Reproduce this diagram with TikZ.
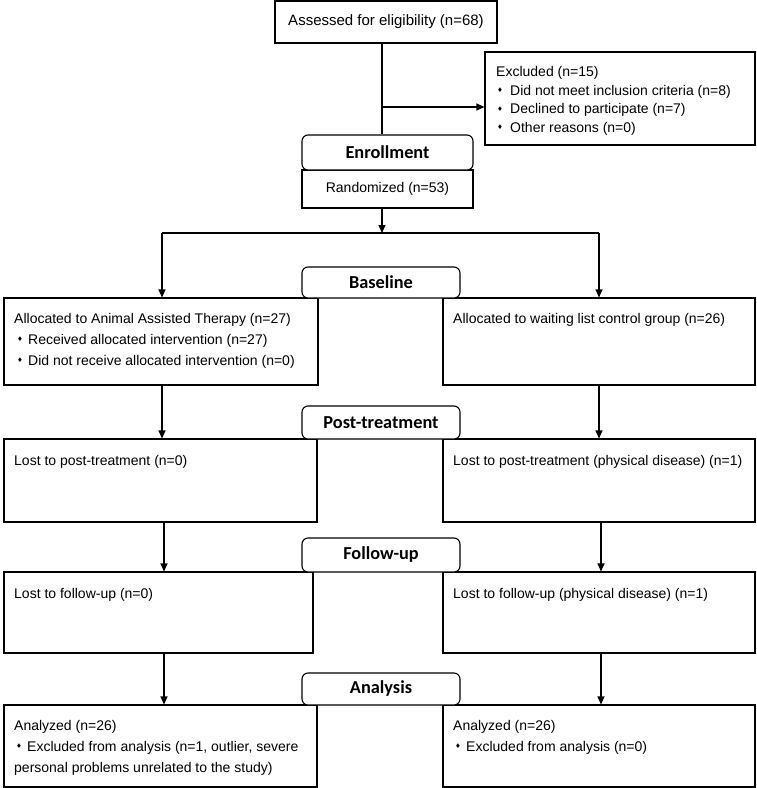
\documentclass[tikz,border=0pt]{standalone}
\usepackage{fontspec}
\setmainfont{Liberation Sans}
\newfontfamily\phasefont{Carlito}
\newfontfamily\symfont{DejaVu Sans}
\usetikzlibrary{arrows.meta}
\newcommand\dia{\makebox[11pt][l]{\raisebox{0.15em}{\symfont\fontsize{6.5}{7}\selectfont ♦}}}
\tikzset{
  box/.style={draw, line width=1.1pt, rectangle, inner sep=0pt, fill=white},
  phasebox/.style={box, rounded corners=6pt, font=\phasefont\bfseries\fontsize{18.3}{20}\selectfont},
  txt/.style={inner sep=0pt, anchor=base west, font=\fontsize{14}{18}\selectfont},
  ctxt/.style={font=\fontsize{14}{18}\selectfont},
  conn/.style={line width=1.1pt},
  arr/.style={conn, -{Triangle[length=8pt,width=7pt]}}
}
\begin{document}
\begin{tikzpicture}[x=1pt,y=-1pt]
\useasboundingbox[fill=white] (0,0) rectangle (756,788);

% boxes
\node[box, font=\fontsize{15}{18}\selectfont, minimum width=222pt, minimum height=42pt] (assess) at (386,22) {Assessed for eligibility (n=68)};
\node[box, minimum width=270pt, minimum height=93pt] (excl) at (620,98.5) {};
\node[box, ctxt, minimum width=171pt, minimum height=38pt] (random) at (387.5,189) {Randomized (n=53)};
\node[phasebox, minimum width=171pt, minimum height=35pt] (enroll) at (387.5,152.5) {Enrollment};

\node[box, minimum width=314pt, minimum height=87pt] (allocL) at (161,341.5) {};
\node[box, minimum width=312pt, minimum height=87pt] (allocR) at (599,341.5) {};
\node[phasebox, minimum width=158pt, minimum height=31pt] (baseline) at (381,282.5) {Baseline};

\node[box, minimum width=313pt, minimum height=83pt] (lostL) at (160.5,480.5) {};
\node[box, minimum width=312pt, minimum height=83pt] (lostR) at (599,480.5) {};
\node[phasebox, minimum width=158pt, minimum height=33pt] (post) at (381,422.5) {Post-treatment};

\node[box, minimum width=309pt, minimum height=81pt] (fuL) at (158.5,612.5) {};
\node[box, minimum width=312pt, minimum height=81pt] (fuR) at (599,612.5) {};
\node[phasebox, minimum width=158pt, minimum height=34pt] (fu) at (381,555) {Follow-up};

\node[box, minimum width=313pt, minimum height=82pt] (anL) at (160.5,746) {};
\node[box, minimum width=312pt, minimum height=82pt] (anR) at (599,746) {};
\node[phasebox, minimum width=158pt, minimum height=32pt] (analysis) at (381,689) {Analysis};

% texts
\node[txt] (e1) at (496,76) {Excluded (n=15)};
\node[txt] (e2) at (497,95) {\dia\hspace{2pt}Did not meet inclusion criteria (n=8)};
\node[txt] (e3) at (497,113.5) {\dia\hspace{2pt}Declined to participate (n=7)};
\node[txt] (e4) at (497,132) {\dia\hspace{2pt}Other reasons (n=0)};

\node[txt] (aL1) at (14,323) {Allocated to Animal Assisted Therapy (n=27)};
\node[txt] (aL2) at (17,344) {\dia Received allocated intervention (n=27)};
\node[txt] (aL3) at (17,365) {\dia Did not receive allocated intervention (n=0)};
\node[txt] (aR1) at (453,323) {Allocated to waiting list control group (n=26)};

\node[txt] (lL1) at (14,465) {Lost to post-treatment (n=0)};
\node[txt] (lR1) at (453,465) {Lost to post-treatment (physical disease) (n=1)};

\node[txt] (fL1) at (14,598) {Lost to follow-up (n=0)};
\node[txt] (fR1) at (453,598) {Lost to follow-up (physical disease) (n=1)};

\node[txt] (nL1) at (14,730) {Analyzed (n=26)};
\node[txt] (nL2) at (16,751) {\dia Excluded from analysis (n=1, outlier, severe};
\node[txt] (nL3) at (14,772) {personal problems unrelated to the study)};
\node[txt] (nR1) at (453,730) {Analyzed (n=26)};
\node[txt] (nR2) at (455,751) {\dia Excluded from analysis (n=0)};

% connectors
\coordinate (mx) at (382,0);
\draw[conn] (assess.south -| mx) -- (enroll.north -| mx);
\coordinate (j1) at (382,107);
\draw[arr] (j1) -- (j1 -| excl.west);
\coordinate (br) at (382,233);
\draw[arr] (random.south -| mx) -- (br);
\coordinate (bl) at (162,233);
\coordinate (brr) at (599,233);
\draw[conn] (bl) -- (brr);
\draw[arr] (bl) -- (allocL.north -| bl);
\draw[arr] (brr) -- (allocR.north -| brr);
\coordinate (cl) at (162,0);
\coordinate (cr) at (599,0);
\draw[arr] (allocL.south -| cl) -- (lostL.north -| cl);
\draw[arr] (allocR.south -| cr) -- (lostR.north -| cr);
\coordinate (dl) at (164,0);
\coordinate (dr) at (601,0);
\draw[arr] (lostL.south -| dl) -- (fuL.north -| dl);
\draw[arr] (lostR.south -| dr) -- (fuR.north -| dr);
\draw[arr] (fuL.south -| dl) -- (anL.north -| dl);
\draw[arr] (fuR.south -| dr) -- (anR.north -| dr);
\end{tikzpicture}
\end{document}
